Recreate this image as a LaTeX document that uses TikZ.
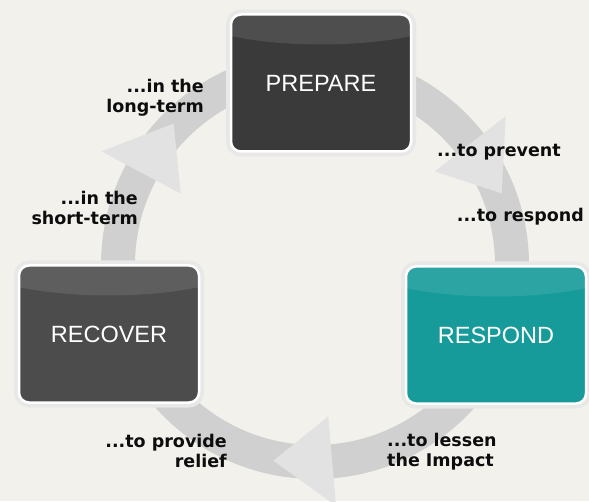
\documentclass[tikz,border=0pt]{standalone}
\usepackage{fontspec}
\setmainfont{Liberation Sans}
\newfontfamily\labelfont{DejaVu Sans}
\usetikzlibrary{calc}
\definecolor{paper}{RGB}{243,241,236}
\definecolor{bandgray}{RGB}{208,208,208}
\definecolor{headgray}{RGB}{226,226,226}
\definecolor{prepgray}{RGB}{58,58,58}
\definecolor{recgray}{RGB}{76,76,76}
\definecolor{respteal}{RGB}{22,154,154}
\tikzstyle{phase}=[rectangle,rounded corners=10pt,minimum width=180pt,minimum height=137pt,
  draw=white,line width=2.5pt,text=white,font=\fontsize{23.5}{26}\selectfont,
  preaction={draw=black!9,line width=10pt},
  path picture={\fill[white,opacity=.1] (path picture bounding box.north) ++(0,12pt)
    ellipse [x radius=150pt,y radius=42pt];}]
\tikzstyle{note}=[inner sep=0pt,text=black!95,font=\labelfont\bfseries\fontsize{17.5}{20}\selectfont]

\begin{document}
\begin{tikzpicture}[x=1pt,y=1pt]
	\fill[paper] (0,0) rectangle (589,501);
	\useasboundingbox (0,0) rectangle (589,501);
	\coordinate (c) at (315,236);
	\draw[bandgray,line width=34pt] (c) circle [radius=197];
	\foreach \a in {152,38,-85}
		\fill[headgray] ($(c)+(\a:152)$) -- ($(c)+(\a:242)$) -- ($(c)+(\a-17:200)$) -- cycle;
	\node[phase,fill=prepgray] (prepare) at (321,418) {PREPARE};
	\node[phase,fill=recgray] (recover) at (109,167) {RECOVER};
	\node[phase,fill=respteal] (respond) at (496,166) {RESPOND};
	\node[note,anchor=east,align=right] (longterm) at (204,403) {...in the\\long-term};
	\node[note,anchor=east,align=right] (shortterm) at (138,293) {...in the\\short-term};
	\node[note,anchor=west] (prevent) at (437,349) {...to prevent};
	\node[note,anchor=east] (torespond) at (584,284) {...to respond};
	\node[note,anchor=west,align=left] (lessen) at (387,49) {...to lessen\\the Impact};
	\node[note,anchor=east,align=right] (relief) at (227,50) {...to provide\\relief};
\end{tikzpicture}
\end{document}
